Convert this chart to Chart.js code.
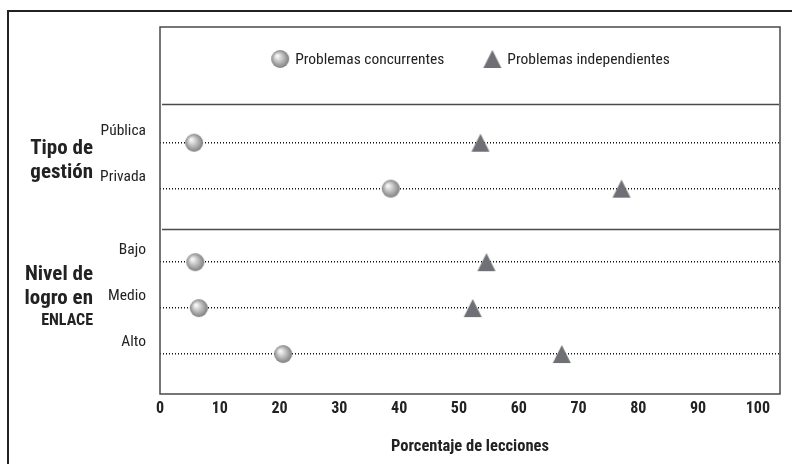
<!DOCTYPE html>
<html>
<head>
<meta charset="utf-8">
<script src="https://cdn.jsdelivr.net/npm/chart.js@4.4.1/dist/chart.umd.min.js"></script>
<style>
  html, body { margin: 0; padding: 0; background: #fff; }
  #wrap { width: 792px; height: 464px; }
</style>
</head>
<body>
<div id="wrap"><canvas id="chart" width="792" height="464"></canvas></div>
<script>
// ─── 数据 ───────────────────────────────────────────
const categories     = ['Pública', 'Privada', 'Bajo', 'Medio', 'Alto'];
const categoryGroup  = [0, 0, 1, 1, 1];
const groupTitles    = [['Tipo de', 'gestión'], ['Nivel de', 'logro en', 'ENLACE']];
const concurrentes   = [5.7, 38.6, 5.9, 6.5, 20.6];
const independientes = [53.6, 77.2, 54.6, 52.3, 67.2];
const xTicks         = [0, 10, 20, 30, 40, 50, 60, 70, 80, 90, 100];
const seriesLabels   = ['Problemas concurrentes', 'Problemas independientes'];

// ─── 版式 ───────────────────────────────────────────
const FONT = "'Liberation Sans Narrow', 'Roboto Condensed', 'DejaVu Sans Condensed', 'Liberation Sans', sans-serif";
const INK = '#222';
const GROUP_GAP = 1.6;           // 组间距（以行距为单位）

// 行位置：组内步长 1，组间额外留白
const rowPos = [];
categories.forEach((c, i) => {
  if (i === 0) rowPos.push(0);
  else rowPos.push(rowPos[i - 1] + (categoryGroup[i] !== categoryGroup[i - 1] ? GROUP_GAP : 1));
});

// 点样式：灰色球体 / 三角形
function makeBall() {
  const cv = document.createElement('canvas');
  cv.width = 20; cv.height = 20;
  const g = cv.getContext('2d');
  const grad = g.createRadialGradient(7, 7, 1, 10, 10, 9.5);
  grad.addColorStop(0, '#f6f6f6');
  grad.addColorStop(0.45, '#bdbdbd');
  grad.addColorStop(1, '#7a7a7a');
  g.fillStyle = grad;
  g.beginPath(); g.arc(10, 10, 9, 0, Math.PI * 2); g.fill();
  return cv;
}
function makeTriangle() {
  const cv = document.createElement('canvas');
  cv.width = 20; cv.height = 20;
  const g = cv.getContext('2d');
  g.fillStyle = '#6f7075';
  g.beginPath(); g.moveTo(10, 1); g.lineTo(19, 19); g.lineTo(1, 19); g.closePath(); g.fill();
  return cv;
}
const ball = makeBall();
const tri  = makeTriangle();

// 框线、分隔线、组标题、图例
const decor = {
  id: 'decor',
  afterDraw(chart) {
    const { ctx, chartArea: a, scales: { y } } = chart;
    ctx.save();
    // 外框
    ctx.strokeStyle = INK; ctx.lineWidth = 2;
    ctx.beginPath(); ctx.moveTo(792, 11); ctx.lineTo(8, 11); ctx.lineTo(8, 464); ctx.stroke();
    // 绘图框
    ctx.strokeStyle = '#4a4a4a'; ctx.lineWidth = 1.5;
    ctx.strokeRect(a.left, a.top, a.right - a.left, a.bottom - a.top);
    // 组分隔线
    const seps = [rowPos[0] - 0.85];
    for (let i = 1; i < categories.length; i++) {
      if (categoryGroup[i] !== categoryGroup[i - 1]) seps.push(rowPos[i - 1] + 0.87);
    }
    seps.forEach(v => {
      const py = Math.round(y.getPixelForValue(v)) + 0.5;
      ctx.beginPath(); ctx.moveTo(a.left + 2, py); ctx.lineTo(a.right - 1, py); ctx.stroke();
    });
    // 组标题
    ctx.fillStyle = INK; ctx.textAlign = 'right'; ctx.textBaseline = 'middle';
    const shift = [-5, -9];
    groupTitles.forEach((lines, gi) => {
      const idx = categoryGroup.map((g, i) => g === gi ? i : -1).filter(i => i >= 0);
      const mid = idx.reduce((s, i) => s + y.getPixelForValue(rowPos[i]), 0) / idx.length + shift[gi];
      const lh = 24;
      let yy = mid - (lines.length - 1) * lh / 2;
      lines.forEach(t => {
        const caps = t === t.toUpperCase();
        ctx.font = `bold ${caps ? 16 : 21}px ${FONT}`;
        ctx.fillText(t, 93, caps ? yy - 2 : yy);
        yy += lh;
      });
    });
    // 图例
    ctx.font = `15.5px ${FONT}`; ctx.textAlign = 'left';
    const icons = [ball, tri];
    const widths = seriesLabels.map(t => ctx.measureText(t).width);
    const gap = 38, iconW = 20, textGap = 5;
    const total = widths.reduce((s, w) => s + iconW + textGap + w, 0) + gap;
    let lx = (a.left + a.right) / 2 - total / 2;
    const ly = a.top + 32;
    seriesLabels.forEach((t, i) => {
      ctx.drawImage(icons[i], lx, ly - 10);
      ctx.fillText(t, lx + iconW + textGap, ly + 1);
      lx += iconW + textGap + widths[i] + gap;
    });
    ctx.restore();
  }
};

new Chart(document.getElementById('chart'), {
  type: 'scatter',
  data: {
    datasets: [
      {
        label: seriesLabels[0],
        data: concurrentes.map((v, i) => ({ x: v, y: rowPos[i] })),
        pointStyle: ball, pointRadius: 10,
      },
      {
        label: seriesLabels[1],
        data: independientes.map((v, i) => ({ x: v, y: rowPos[i] })),
        pointStyle: tri, pointRadius: 10,
      },
    ],
  },
  options: {
    responsive: false,
    devicePixelRatio: 1,
    animation: false,
    layout: { padding: { top: 27, right: 12, bottom: 0, left: 0 } },
    plugins: { legend: { display: false }, tooltip: { enabled: false } },
    scales: {
      x: {
        type: 'linear', min: 0, max: 103.7,
        afterBuildTicks: s => { s.ticks = xTicks.map(v => ({ value: v })); },
        afterFit: s => { s.height = 70; },
        grid: { display: false, drawTicks: false },
        border: { display: false },
        ticks: { font: { family: FONT, size: 16, weight: 'bold' }, color: INK, padding: 5, maxRotation: 0, autoSkip: false },
        title: {
          display: true, text: 'Porcentaje de lecciones', color: INK,
          font: { family: FONT, size: 16.5, weight: 'bold' }, padding: { top: 0, bottom: 7 },
        },
      },
      y: {
        type: 'linear', reverse: true,
        min: rowPos[0] - 2.52, max: rowPos[rowPos.length - 1] + 0.87,
        afterBuildTicks: s => { s.ticks = rowPos.map(v => ({ value: v })); },
        afterFit: s => { s.width = 160; },
        grid: { drawTicks: false, color: '#111', lineWidth: 1.5 },
        border: { display: false, dash: [1, 2] },
        ticks: {
          callback: (v, i) => categories[i],
          font: { family: FONT, size: 15.5 }, color: INK,
          padding: 14, labelOffset: -12, autoSkip: false,
        },
      },
    },
  },
  plugins: [decor],
});
</script>
</body>
</html>
